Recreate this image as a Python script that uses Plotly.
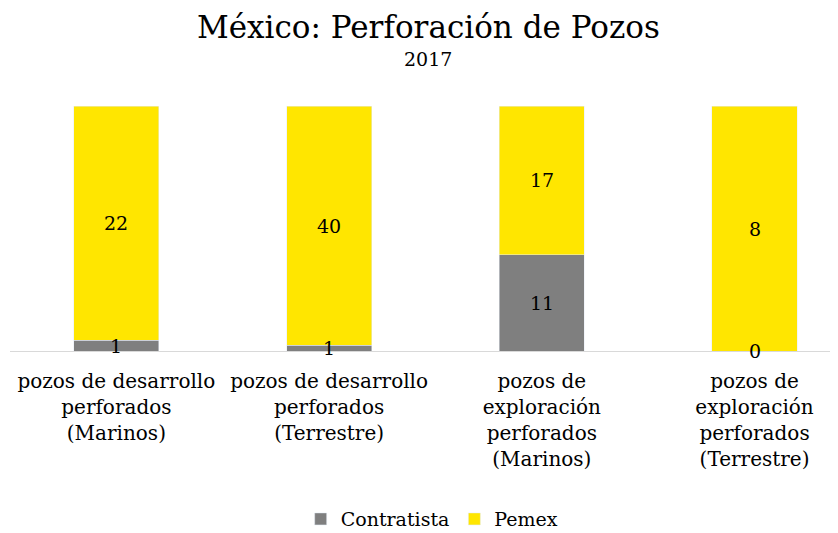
import plotly.graph_objects as go

categories = [
    "pozos de desarrollo<br>perforados<br>(Marinos)",
    "pozos de desarrollo<br>perforados<br>(Terrestre)",
    "pozos de<br>exploración<br>perforados<br>(Marinos)",
    "pozos de<br>exploración<br>perforados<br>(Terrestre)",
]
contratista = [1, 1, 11, 0]
pemex = [22, 40, 17, 8]

FONT = "DejaVu Serif"
GRAY = "#7f7f7f"
YELLOW = "#ffe600"

xs = list(range(len(categories)))
fig = go.Figure()
fig.add_trace(go.Bar(x=xs, y=contratista, name="Contratista", marker_color=GRAY, width=0.4))
fig.add_trace(go.Bar(x=xs, y=pemex, name="Pemex", marker_color=YELLOW, width=0.4))

annotations = []
for i, (c, p) in enumerate(zip(contratista, pemex)):
    tot = c + p
    cp = 100 * c / tot
    pp = 100 * p / tot
    annotations.append(dict(x=i, y=cp / 2, text=str(c), showarrow=False, xref="x", yref="y",
                            font=dict(family=FONT, size=19, color="#000")))
    annotations.append(dict(x=i, y=cp + pp / 2, text=str(p), showarrow=False, xref="x", yref="y",
                            font=dict(family=FONT, size=19, color="#000")))

annotations.append(dict(x=0.5, y=1.4, xref="paper", yref="paper", text="México: Perforación de Pozos",
                        showarrow=False, xanchor="center", yanchor="top", borderpad=0,
                        font=dict(family=FONT, size=31, color="#000")))
annotations.append(dict(x=0.5, y=1.19, xref="paper", yref="paper", text="2017",
                        showarrow=False, xanchor="center", yanchor="middle",
                        font=dict(family=FONT, size=19, color="#000")))

fig.update_layout(
    width=838, height=533,
    margin=dict(l=2, r=0, t=98, b=190, autoexpand=False),
    barmode="stack", barnorm="percent",
    plot_bgcolor="white", paper_bgcolor="white",
    font=dict(family=FONT, size=19, color="#000"),
    showlegend=True,
    legend=dict(orientation="h", x=0.505, xanchor="center", y=-0.686, yanchor="middle",
                font=dict(family=FONT, size=19, color="#000"), itemwidth=30, traceorder="normal"),
    annotations=annotations,
)
fig.update_xaxes(tickmode="array", tickvals=xs, ticktext=categories, range=[-0.5, 3.43],
                 showline=True, linecolor="#d9d9d9", linewidth=1, ticks="", showgrid=False,
                 automargin=False, ticklabelstandoff=12,
                 tickfont=dict(family=FONT, size=20, color="#000"))
fig.update_yaxes(range=[0, 100], visible=False, showgrid=False)

fig.write_html("out.html")
